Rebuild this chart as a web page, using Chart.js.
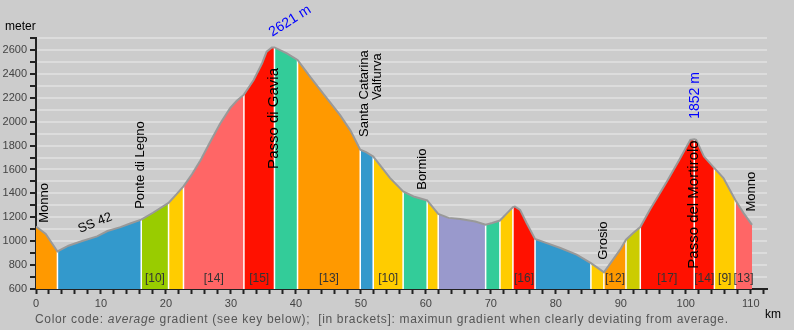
<!DOCTYPE html>
<html>
<head>
<meta charset="utf-8">
<script src="https://cdn.jsdelivr.net/npm/chart.js@4.4.1/dist/chart.umd.min.js"></script>
<style>
  html, body { margin: 0; padding: 0; background: #cccccc; }
  canvas { display: block; }
</style>
</head>
<body>
<canvas id="profileChart" width="794" height="330"></canvas>
<script>
// altitude profile of the route
const distanceKm = [0, 1.5, 3.3, 5, 7, 9.4, 11, 13, 14.6, 16.2, 18, 20.4, 21.5, 22.7, 24.0, 25.3, 26.8, 28.35, 29.9, 30.9, 32.0,
  33.5, 34.8, 35.5, 36.3, 36.7, 38.6, 40.25, 42.2, 44.2, 46.8, 48.4, 49.9, 50.8, 51.9, 54.5, 56.5, 58.1, 60.2, 61.9,
  63.5, 65.3, 67.6, 69.2, 70.2, 71.4, 72.5, 73.4, 73.7, 74.5, 75.5, 76.8, 78.6, 80.7, 83.2, 85.4, 86.5, 87.4, 89.9,
  90.8, 91.9, 93.0, 94.5, 97.1, 99.1, 100.7, 101.3, 101.6, 102.8, 104.4, 105.8, 107.6, 108.9, 110.2];
const altitudeM = [1123, 1060, 914, 962, 1000, 1040, 1085, 1118, 1150, 1180, 1238, 1320, 1385, 1459, 1560, 1675, 1830, 1985, 2115, 2175, 2226,
  2349, 2489, 2586, 2621, 2621, 2572, 2516, 2375, 2235, 2055, 1925, 1765, 1745, 1708, 1528, 1416, 1374, 1341, 1228,
  1195, 1185, 1165, 1137, 1152, 1173, 1235, 1285, 1290, 1262, 1152, 1018, 984, 943, 887, 817, 775, 739, 929,
  1012, 1068, 1118, 1265, 1500, 1690, 1848, 1852, 1848, 1708, 1611, 1528, 1346, 1235, 1137];

// gradient sections: where each ends, its colour class, max gradient in brackets
const sectionEnds = [3.3, 16.2, 20.4, 22.7, 32.0, 36.7, 40.25, 49.9, 51.9, 56.5, 60.2, 61.9, 69.2, 71.4, 73.4, 76.8,
  85.4, 87.4, 90.8, 93.0, 101.3, 104.4, 107.6, 110.2];
const sectionClass = ['orange', 'blue', 'lime', 'yellow', 'salmon', 'red', 'teal', 'orange', 'blue', 'yellow', 'teal', 'yellow',
  'purple', 'teal', 'yellow', 'red', 'blue', 'yellow', 'orange', 'olive', 'red', 'red', 'yellow', 'salmon'];
const sectionMaxGradient = [null, null, 10, null, 14, 15, null, 13, null, 10, null, null, null, null, null, 16,
  null, null, 12, null, 17, 14, 9, 13];

const placeNames = ['Monno', 'Ponte di Legno', 'Passo di Gavia', 'Santa Catarina', 'Valfurva', 'Bormio', 'Grosio', 'Passo del Mortirolo', 'Monno'];
const placeKm = [1.3, 16.1, 36.6, 50.5, 52.5, 59.4, 87.4, 101.3, 110.15];
const summitKm = [36.7, 101.3];

const xTickLabels = [0, 10, 20, 30, 40, 50, 60, 70, 80, 90, 100, 110];
const yTickLabels = [600, 800, 1000, 1200, 1400, 1600, 1800, 2000, 2200, 2400, 2600];

const palette = {
  orange: '#ff9900', blue: '#3399cc', lime: '#99cc00', yellow: '#ffcc00', salmon: '#ff6666',
  red: '#ff1100', teal: '#33cc99', purple: '#9999cc', olive: '#cccc00'
};
const sans = '"Liberation Sans", Arial, sans-serif';
const narrow = '"Liberation Sans Narrow", "Liberation Sans", Arial, sans-serif';

// text placement (anchor in km / m, text starts at anchor)
const placeStyle = [
  {elev: 1154, size: 13}, {elev: 1271, size: 13}, {elev: 1605, size: 15}, {elev: 1872, size: 13}, {elev: 2181, size: 13},
  {elev: 1430, size: 13}, {elev: 845, size: 13}, {elev: 770, size: 15}, {elev: 1248, size: 13}
];
const summitStyle = [
  {km: 39.1, elev: 2842, angle: -32}, {km: 101.4, elev: 2219, angle: -90}
];

const points = distanceKm.map((d, i) => ({x: d, y: altitudeM[i]}));

let from = 0;
const sectionSets = sectionEnds.map((end, i) => {
  const set = {
    data: points.filter(p => p.x >= from && p.x <= end),
    backgroundColor: palette[sectionClass[i]],
    borderWidth: 0,
    fill: 'start',
    pointRadius: 0,
    order: 3
  };
  from = end;
  return set;
});

const separatorData = [];
sectionEnds.slice(0, -1).forEach(end => {
  const top = altitudeM[distanceKm.indexOf(end)];
  separatorData.push({x: end, y: 600}, {x: end, y: top}, {x: end, y: null});
});

const labelsPlugin = {
  id: 'profileLabels',
  afterDatasetsDraw(chart) {
    const {ctx, scales: {x, y}} = chart;
    ctx.save();
    ctx.textBaseline = 'middle';

    // [max gradient]
    ctx.font = '12px ' + narrow;
    ctx.fillStyle = '#333';
    ctx.textAlign = 'center';
    let start = 0;
    sectionEnds.forEach((end, i) => {
      if (sectionMaxGradient[i]) {
        ctx.fillText('[' + sectionMaxGradient[i] + ']', x.getPixelForValue((start + end) / 2), y.getPixelForValue(688));
      }
      start = end;
    });

    // places
    ctx.fillStyle = '#000';
    ctx.textAlign = 'left';
    placeNames.forEach((name, i) => {
      ctx.save();
      ctx.translate(x.getPixelForValue(placeKm[i]), y.getPixelForValue(placeStyle[i].elev));
      ctx.rotate(-Math.PI / 2);
      ctx.font = placeStyle[i].size + 'px ' + sans;
      ctx.fillText(name, 0, 0);
      ctx.restore();
    });

    ctx.save();
    ctx.translate(x.getPixelForValue(9.1), y.getPixelForValue(1152));
    ctx.rotate(-22 * Math.PI / 180);
    ctx.textAlign = 'center';
    ctx.font = '13px ' + sans;
    ctx.fillText('SS 42', 0, 0);
    ctx.restore();

    // summits
    ctx.fillStyle = '#0000ff';
    ctx.textAlign = 'center';
    summitKm.forEach((km, i) => {
      const h = altitudeM[distanceKm.indexOf(km)];
      ctx.save();
      ctx.translate(x.getPixelForValue(summitStyle[i].km), y.getPixelForValue(summitStyle[i].elev));
      ctx.rotate(summitStyle[i].angle * Math.PI / 180);
      ctx.font = '14px ' + sans;
      ctx.fillText(h + ' m', 0, 0);
      ctx.restore();
    });
    ctx.restore();
  },
  afterDraw(chart) {
    const ctx = chart.ctx;
    ctx.save();
    ctx.textBaseline = 'middle';
    ctx.textAlign = 'left';
    ctx.fillStyle = '#000';
    ctx.font = '12px ' + sans;
    ctx.fillText('meter', 5, 27);
    ctx.fillText('km', 765, 315);

    // footnote, letter spaced to span the axis
    const parts = [
      ['Color code: ', ''],
      ['average', 'italic '],
      [' gradient (see key below);  [in brackets]: maximun gradient when clearly deviating from average.', '']
    ];
    let plain = 0, count = 0;
    parts.forEach(([t, st]) => {
      ctx.font = st + '12px ' + narrow;
      for (const ch of t) { plain += ctx.measureText(ch).width; count++; }
    });
    const spacing = (693 - plain) / (count - 1);
    let cx = 35;
    ctx.fillStyle = '#555';
    parts.forEach(([t, st]) => {
      ctx.font = st + '12px ' + narrow;
      for (const ch of t) {
        ctx.fillText(ch, cx, 320);
        cx += ctx.measureText(ch).width + spacing;
      }
    });
    ctx.restore();
  }
};

new Chart(document.getElementById('profileChart'), {
  type: 'line',
  data: {
    datasets: [
      {data: points, borderColor: '#999999', borderWidth: 2, fill: false, pointRadius: 0, order: 1},
      {data: separatorData, borderColor: '#ffffff', borderWidth: 1.5, fill: false, pointRadius: 0, spanGaps: false, order: 2},
      ...sectionSets
    ]
  },
  options: {
    responsive: false,
    animation: false,
    layout: {padding: {top: 38, right: 27, left: 0, bottom: 0}},
    elements: {line: {tension: 0}, point: {radius: 0}},
    plugins: {legend: {display: false}, tooltip: {enabled: false}},
    scales: {
      x: {
        type: 'linear',
        min: 0,
        max: 112.5,
        afterFit: s => { s.height = 41; },
        border: {color: '#222', width: 2},
        grid: {drawOnChartArea: false, tickLength: 5, tickColor: '#222', tickWidth: 2},
        ticks: {
          stepSize: 2, includeBounds: false, autoSkip: false, maxRotation: 0, maxTicksLimit: 100,
          padding: 3, color: '#444', font: {family: narrow, size: 11},
          callback: v => xTickLabels.includes(v) ? v : ''
        }
      },
      y: {
        min: 600,
        max: 2700,
        afterFit: s => { s.width = 36; },
        border: {color: '#222', width: 2},
        grid: {
          color: c => c.tick && c.tick.value === 600 ? 'rgba(0,0,0,0)' : '#dcdcdc',
          lineWidth: 2, tickLength: 6, tickColor: '#222', tickWidth: 2
        },
        ticks: {
          stepSize: 100, autoSkip: false, maxTicksLimit: 100, padding: 3,
          color: '#444', font: {family: sans, size: 11},
          callback: v => yTickLabels.includes(v) ? v : ''
        }
      }
    }
  },
  plugins: [labelsPlugin]
});
</script>
</body>
</html>
